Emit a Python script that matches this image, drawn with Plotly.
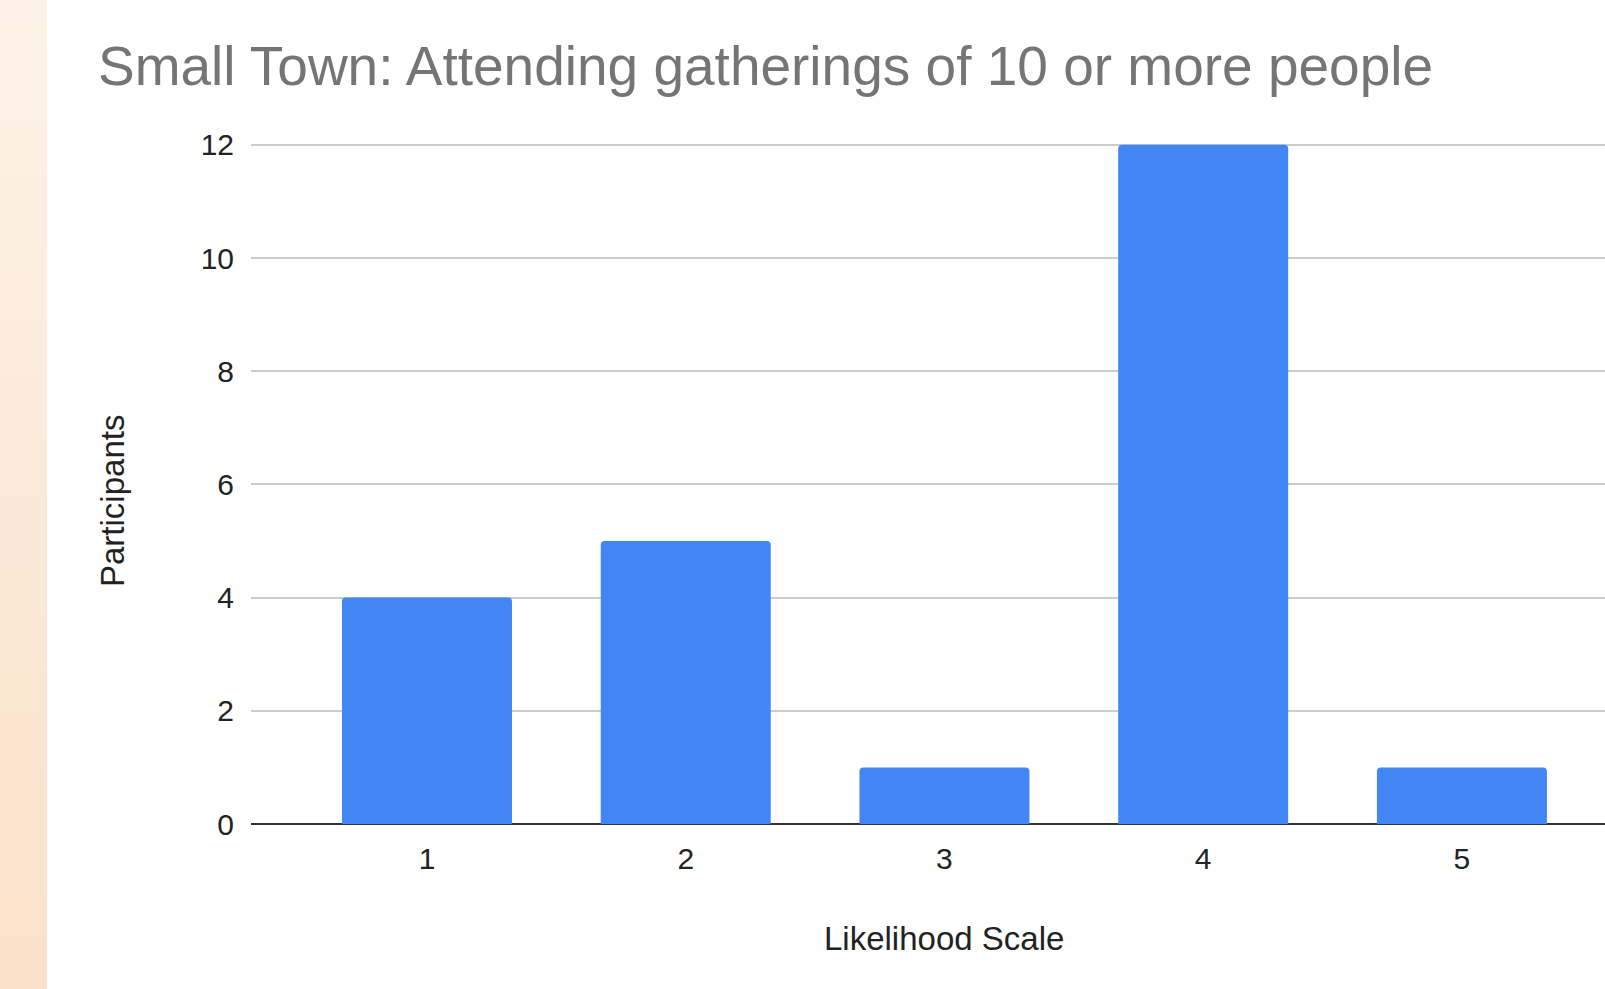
import plotly.graph_objects as go

likelihood = [1, 2, 3, 4, 5]
participants = [4, 5, 1, 12, 1]
y_ticks = [0, 2, 4, 6, 8, 10, 12]

W, H = 1605, 989
L, R, T, B = 251, 0, 142, 165
plot_w = W - L - R
plot_h = H - T - B
y_max = 12.05
base_px = H - B  # pixel row of y = 0

fig = go.Figure(
    go.Bar(
        x=likelihood,
        y=participants,
        width=0.657,
        marker=dict(color="#4285F4", line=dict(width=0), cornerradius=4),
        hoverinfo="x+y",
    )
)

# decorative peach strip on the left edge (vertical gradient)
shapes = []
n = 40
top = (253, 242, 231)
bot = (250, 225, 201)
for i in range(n):
    t = i / (n - 1)
    c = tuple(round(top[k] + (bot[k] - top[k]) * t) for k in range(3))
    y_top_px = H * i / n
    y_bot_px = H * (i + 1) / n + 1
    shapes.append(dict(
        type="rect", xref="paper", yref="paper", layer="below",
        x0=-L / plot_w, x1=(47 - L) / plot_w,
        y0=(base_px - y_bot_px) / plot_h, y1=(base_px - y_top_px) / plot_h,
        fillcolor="rgb(%d,%d,%d)" % c, line=dict(width=0),
    ))

font_fam = "Arial, Liberation Sans, sans-serif"

annotations = [
    dict(text="Likelihood Scale", xref="paper", yref="paper",
         x=(944 - L) / plot_w, y=(base_px - 938) / plot_h,
         xanchor="center", yanchor="middle", showarrow=False,
         font=dict(family=font_fam, size=33, color="#222222")),
    dict(text="Participants", xref="paper", yref="paper",
         x=(112 - L) / plot_w, y=(base_px - 501) / plot_h,
         xanchor="center", yanchor="middle", showarrow=False, textangle=-90,
         font=dict(family=font_fam, size=33, color="#222222")),
]

fig.update_layout(
    width=W, height=H,
    margin=dict(l=L, r=R, t=T, b=B, pad=0),
    paper_bgcolor="white", plot_bgcolor="white",
    showlegend=False,
    shapes=shapes,
    annotations=annotations,
    font=dict(family=font_fam, color="#222222", size=30),
    title=dict(
        text="Small Town: Attending gatherings of 10 or more people",
        font=dict(family=font_fam, size=55, color="#757575"),
        xref="container", yref="container",
        x=98 / W, xanchor="left",
        y=1 - 66 / H, yanchor="middle",
    ),
    xaxis=dict(
        range=[0.3198, 5.553],
        tickmode="array", tickvals=likelihood, ticktext=[str(v) for v in likelihood],
        showgrid=False, zeroline=False, showline=False,
        ticks="", ticklabelstandoff=14,
        tickfont=dict(size=30, color="#222222"),
    ),
    yaxis=dict(
        range=[0, y_max],
        tickmode="array", tickvals=y_ticks,
        showgrid=True, gridcolor="#cccccc", gridwidth=2,
        zeroline=True, zerolinecolor="#333333", zerolinewidth=2,
        showline=False, ticks="", ticklabelstandoff=16,
        tickfont=dict(size=30, color="#222222"),
    ),
)

fig.write_html("out.html")
